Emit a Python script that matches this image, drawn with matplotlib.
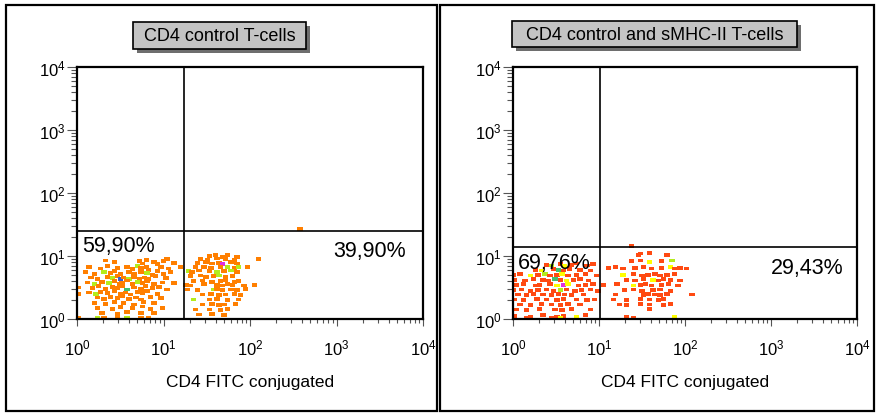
import numpy as np
import matplotlib
matplotlib.use("Agg")
import matplotlib.pyplot as plt
from matplotlib.patches import Rectangle
from matplotlib.ticker import LogLocator, NullFormatter

plt.rcParams['font.family'] = ['Liberation Sans', 'DejaVu Sans']
plt.rcParams['mathtext.fontset'] = 'custom'
plt.rcParams['mathtext.rm'] = 'Liberation Sans'

# events, as (log10 CD4 FITC, log10 y, colour key)
left_neg = [
    (0.33, 0.93, 'o'), (0.43, 0.90, 'o'), (0.72, 0.92, 'o'), (0.76, 0.88, 'o'), (0.80, 0.94, 'o'),
    (0.89, 0.91, 'o'), (0.93, 0.87, 'o'), (1.00, 0.92, 'o'), (1.04, 0.95, 'o'), (1.12, 0.89, 'o'),
    (0.14, 0.82, 'o'), (0.27, 0.80, 'o'), (0.35, 0.84, 'o'), (0.47, 0.81, 'o'), (0.58, 0.83, 'o'),
    (0.64, 0.79, 'o'), (0.70, 0.84, 'g'), (0.74, 0.81, 'o'), (0.80, 0.82, 'o'), (0.83, 0.78, 'o'),
    (0.97, 0.83, 'o'), (1.06, 0.80, 'o'), (1.20, 0.82, 'o'),
    (0.10, 0.74, 'o'), (0.20, 0.72, 'o'), (0.31, 0.75, 'g'), (0.39, 0.73, 'o'), (0.43, 0.76, 'o'),
    (0.50, 0.72, 'o'), (0.60, 0.74, 'o'), (0.66, 0.71, 'o'), (0.74, 0.75, 'o'), (0.81, 0.73, 'g'),
    (0.87, 0.70, 'o'), (0.93, 0.76, 'o'), (1.00, 0.72, 'o'), (1.08, 0.74, 'o'),
    (0.16, 0.66, 'o'), (0.24, 0.64, 'o'), (0.35, 0.67, 'o'), (0.41, 0.65, 'g'), (0.47, 0.68, 'o'),
    (0.50, 0.63, 'b'), (0.54, 0.66, 'o'), (0.60, 0.64, 'g'), (0.66, 0.67, 'o'), (0.72, 0.63, 'o'),
    (0.78, 0.66, 'o'), (0.83, 0.64, 'o'), (0.91, 0.68, 'o'), (1.03, 0.65, 'o'),
    (0.12, 0.58, 'o'), (0.20, 0.56, 'g'), (0.29, 0.59, 'o'), (0.37, 0.57, 'g'), (0.43, 0.60, 'o'),
    (0.49, 0.55, 'o'), (0.52, 0.58, 'o'), (0.58, 0.61, 'o'), (0.64, 0.56, 'o'), (0.70, 0.59, 'g'),
    (0.76, 0.57, 'o'), (0.81, 0.60, 'o'), (0.89, 0.55, 'o'), (0.99, 0.58, 'o'), (1.12, 0.57, 'o'),
    (0.02, 0.50, 'o'), (0.18, 0.49, 'o'), (0.25, 0.52, 'o'), (0.33, 0.48, 'o'), (0.41, 0.51, 'o'),
    (0.47, 0.49, 'o'), (0.52, 0.52, 'o'), (0.58, 0.47, 't'), (0.66, 0.50, 'o'), (0.74, 0.48, 'o'),
    (0.79, 0.52, 'o'), (0.87, 0.49, 'o'), (0.95, 0.51, 'o'), (1.04, 0.47, 'o'),
    (0.14, 0.42, 'o'), (0.22, 0.40, 'g'), (0.27, 0.43, 'o'), (0.35, 0.41, 'o'), (0.43, 0.44, 'o'),
    (0.50, 0.40, 'o'), (0.56, 0.42, 'o'), (0.62, 0.39, 'o'), (0.70, 0.43, 'o'), (0.76, 0.41, 'o'),
    (0.81, 0.44, 'o'), (0.93, 0.40, 'o'), (0.01, 0.40, 'o'),
    (0.24, 0.34, 'o'), (0.31, 0.32, 'o'), (0.39, 0.35, 'o'), (0.47, 0.33, 'o'), (0.52, 0.36, 'o'),
    (0.60, 0.32, 'o'), (0.68, 0.34, 'o'), (0.74, 0.31, 'o'), (0.85, 0.35, 'o'), (0.97, 0.33, 'o'),
    (0.20, 0.26, 'o'), (0.33, 0.24, 'o'), (0.43, 0.27, 'o'), (0.54, 0.25, 'o'), (0.66, 0.23, 'o'),
    (0.77, 0.27, 'o'), (0.89, 0.25, 'o'),
    (0.24, 0.18, 'o'), (0.41, 0.16, 'o'), (0.50, 0.19, 'o'), (0.64, 0.17, 'o'), (0.76, 0.20, 'o'),
    (0.85, 0.16, 'o'), (0.99, 0.18, 'o'),
    (0.29, 0.10, 'o'), (0.47, 0.08, 'o'), (0.58, 0.11, 'o'), (0.74, 0.09, 'o'), (0.89, 0.10, 'o'),
    (0.01, 0.02, 'o'), (0.24, 0.02, 'g'), (0.31, 0.02, 'o'), (0.47, 0.02, 'o'), (0.58, 0.02, 'g'),
    (0.74, 0.02, 'o'), (0.83, 0.02, 'o'),
]
left_pos = [
    (1.53, 1.00, 'o'), (1.60, 1.01, 'o'), (1.68, 0.99, 'o'), (1.74, 1.02, 'o'), (1.85, 0.98, 'o'),
    (1.43, 0.95, 'o'), (1.51, 0.94, 'o'), (1.62, 0.96, 'o'), (1.72, 0.95, 'o'), (1.82, 0.94, 'o'),
    (2.10, 0.95, 'o'),
    (1.39, 0.89, 'o'), (1.49, 0.90, 'o'), (1.56, 0.88, 'o'), (1.64, 0.89, 'o'), (1.68, 0.87, 'm'),
    (1.78, 0.90, 'o'), (1.85, 0.88, 'o'),
    (1.37, 0.82, 'o'), (1.47, 0.83, 'o'), (1.55, 0.81, 'o'), (1.66, 0.82, 'o'), (1.74, 0.83, 'g'),
    (1.82, 0.81, 'o'), (1.87, 0.82, 'g'), (1.97, 0.82, 'o'),
    (1.29, 0.76, 'g'), (1.33, 0.75, 'o'), (1.41, 0.77, 'o'), (1.53, 0.76, 'o'), (1.62, 0.75, 'g'),
    (1.70, 0.76, 'o'), (1.78, 0.77, 'g'), (1.85, 0.75, 'o'),
    (1.31, 0.68, 'o'), (1.43, 0.69, 'o'), (1.49, 0.67, 'o'), (1.58, 0.68, 'o'), (1.64, 0.69, 'g'),
    (1.72, 0.67, 'o'), (1.80, 0.68, 'o'),
    (1.35, 0.60, 'o'), (1.45, 0.61, 'o'), (1.56, 0.59, 'o'), (1.66, 0.60, 'o'), (1.72, 0.61, 'o'),
    (1.82, 0.59, 'o'), (1.87, 0.60, 'o'),
    (1.26, 0.54, 'o'), (1.31, 0.53, 'o'), (1.47, 0.55, 'o'), (1.62, 0.54, 'o'), (1.68, 0.53, 'o'),
    (1.74, 0.55, 'o'), (1.80, 0.54, 'o'), (1.93, 0.53, 'o'), (2.05, 0.54, 'o'),
    (1.28, 0.47, 'o'), (1.39, 0.46, 'o'), (1.58, 0.47, 'g'), (1.62, 0.48, 'o'), (1.68, 0.46, 'o'),
    (1.78, 0.47, 'o'), (1.85, 0.46, 'o'), (1.95, 0.48, 'o'),
    (1.45, 0.39, 'o'), (1.55, 0.40, 'o'), (1.64, 0.38, 'o'), (1.72, 0.39, 'o'), (1.82, 0.40, 'o'),
    (1.89, 0.38, 'o'),
    (1.35, 0.31, 'g'), (1.53, 0.31, 'o'), (1.62, 0.32, 'o'), (1.74, 0.30, 'o'), (1.87, 0.31, 'o'),
    (1.45, 0.23, 'o'), (1.56, 0.24, 'o'), (1.64, 0.22, 'o'), (1.70, 0.23, 'o'), (1.83, 0.24, 'o'),
    (1.37, 0.15, 'o'), (1.53, 0.15, 'o'), (1.66, 0.14, 'o'), (1.74, 0.16, 'o'),
    (1.41, 0.07, 'o'), (1.56, 0.08, 'o'), (1.70, 0.06, 'o'),
    (2.58, 1.43, 'o'),
]
right_neg = [
    (0.39, 0.86, 'r'), (0.45, 0.85, 'g'), (0.55, 0.87, 'r'), (0.60, 0.84, 'y'), (0.68, 0.86, 'r'),
    (0.74, 0.88, 'r'), (0.86, 0.85, 'r'), (0.93, 0.87, 'r'),
    (0.26, 0.78, 'r'), (0.33, 0.77, 'y'), (0.47, 0.79, 'r'), (0.53, 0.78, 't'), (0.59, 0.77, 'r'),
    (0.66, 0.79, 'r'), (0.78, 0.78, 'r'), (0.90, 0.77, 'r'),
    (0.00, 0.70, 'r'), (0.08, 0.71, 'r'), (0.20, 0.69, 'y'), (0.29, 0.70, 'r'), (0.37, 0.71, 'g'),
    (0.43, 0.69, 'r'), (0.51, 0.70, 'r'), (0.57, 0.71, 'y'), (0.64, 0.69, 'r'), (0.74, 0.70, 'r'),
    (0.84, 0.71, 'r'), (0.97, 0.69, 'r'),
    (0.02, 0.62, 'r'), (0.14, 0.61, 'r'), (0.24, 0.63, 'r'), (0.35, 0.62, 'r'), (0.41, 0.61, 'r'),
    (0.49, 0.63, 't'), (0.55, 0.62, 'r'), (0.62, 0.61, 'y'), (0.70, 0.62, 'r'), (0.78, 0.63, 'r'),
    (0.88, 0.61, 'r'),
    (0.04, 0.54, 'r'), (0.12, 0.55, 'r'), (0.26, 0.53, 'r'), (0.31, 0.54, 'r'), (0.43, 0.55, 'r'),
    (0.51, 0.53, 'y'), (0.59, 0.54, 'm'), (0.64, 0.55, 'y'), (0.76, 0.53, 'r'), (0.84, 0.54, 'r'),
    (0.93, 0.55, 'r'),
    (0.00, 0.46, 'r'), (0.10, 0.47, 'r'), (0.20, 0.45, 'r'), (0.29, 0.46, 'r'), (0.39, 0.47, 'r'),
    (0.47, 0.45, 'r'), (0.55, 0.46, 'g'), (0.62, 0.47, 'r'), (0.72, 0.45, 'r'), (0.80, 0.46, 'r'),
    (0.90, 0.47, 'r'), (0.99, 0.45, 'r'),
    (0.06, 0.39, 'r'), (0.16, 0.38, 'r'), (0.24, 0.40, 'r'), (0.35, 0.39, 'r'), (0.45, 0.38, 'r'),
    (0.53, 0.40, 'r'), (0.60, 0.39, 'r'), (0.68, 0.38, 'r'), (0.82, 0.39, 'r'),
    (0.02, 0.31, 'r'), (0.12, 0.30, 'r'), (0.28, 0.32, 'r'), (0.39, 0.31, 'r'), (0.51, 0.30, 'r'),
    (0.59, 0.32, 'r'), (0.74, 0.31, 'r'), (0.86, 0.30, 'r'), (0.95, 0.31, 'r'),
    (0.08, 0.23, 'r'), (0.20, 0.22, 'r'), (0.33, 0.24, 'r'), (0.45, 0.23, 'r'), (0.55, 0.22, 'r'),
    (0.64, 0.24, 'r'), (0.78, 0.23, 'r'),
    (0.04, 0.15, 'r'), (0.16, 0.14, 'r'), (0.31, 0.16, 'r'), (0.49, 0.15, 'r'), (0.57, 0.14, 'r'),
    (0.68, 0.16, 'r'), (0.90, 0.15, 'r'),
    (0.02, 0.05, 'r'), (0.20, 0.04, 'r'), (0.35, 0.06, 'r'), (0.51, 0.04, 'r'), (0.59, 0.05, 'r'),
    (0.74, 0.04, 'y'), (0.84, 0.06, 'r'),
    (0.16, 0.01, 'r'), (0.45, 0.02, 'r'), (0.55, 0.01, 'y'),
]
right_pos = [
    (1.59, 1.05, 'r'), (1.48, 1.04, 'r'), (1.46, 1.02, 'r'), (1.79, 1.01, 'r'),
    (1.38, 0.92, 'r'), (1.48, 0.93, 'r'), (1.59, 0.91, 'y'), (1.73, 0.92, 'r'), (1.85, 0.93, 'g'),
    (1.11, 0.81, 'r'), (1.19, 0.82, 'r'), (1.28, 0.80, 'r'), (1.42, 0.81, 'r'), (1.52, 0.82, 'r'),
    (1.61, 0.80, 'r'), (1.73, 0.81, 'r'), (1.83, 0.82, 'y'), (1.88, 0.80, 'r'), (1.94, 0.81, 'r'),
    (2.02, 0.80, 'r'),
    (1.28, 0.70, 'y'), (1.40, 0.71, 'r'), (1.50, 0.69, 'r'), (1.57, 0.70, 'r'), (1.65, 0.71, 'r'),
    (1.71, 0.69, 'r'), (1.79, 0.70, 'r'), (1.88, 0.71, 'r'),
    (1.32, 0.62, 'r'), (1.42, 0.61, 'r'), (1.52, 0.63, 'r'), (1.63, 0.62, 'y'), (1.69, 0.61, 'r'),
    (1.75, 0.63, 'r'), (1.83, 0.62, 'r'), (1.94, 0.61, 'r'),
    (1.05, 0.54, 'r'), (1.21, 0.55, 'r'), (1.40, 0.53, 'y'), (1.48, 0.54, 'r'), (1.54, 0.55, 'r'),
    (1.61, 0.53, 'r'), (1.73, 0.54, 'r'), (1.81, 0.55, 'r'), (1.92, 0.53, 'r'),
    (1.30, 0.46, 'r'), (1.40, 0.47, 'r'), (1.50, 0.45, 'r'), (1.63, 0.46, 'r'), (1.71, 0.47, 'r'),
    (1.83, 0.45, 'r'),
    (1.19, 0.39, 'r'), (1.52, 0.38, 'r'), (1.57, 0.40, 'r'), (1.65, 0.39, 'r'), (1.71, 0.38, 'r'),
    (1.79, 0.40, 'r'), (2.08, 0.39, 'r'),
    (1.17, 0.31, 'r'), (1.32, 0.30, 'r'), (1.48, 0.32, 'r'), (1.59, 0.31, 'r'), (1.69, 0.30, 'r'),
    (1.75, 0.32, 'r'),
    (1.24, 0.23, 'r'), (1.32, 0.22, 'r'), (1.48, 0.24, 'r'), (1.59, 0.23, 'r'), (1.75, 0.22, 'r'),
    (1.83, 0.24, 'r'),
    (1.59, 0.16, 'r'),
    (1.32, 0.03, 'r'), (1.40, 0.02, 'r'), (1.88, 0.03, 'y'),
    (1.38, 1.16, 'r'),
]

titles = ['CD4 control T-cells', 'CD4 control and sMHC-II T-cells']
gates_x = [17.3, 10.3]      # vertical quadrant line
gates_y = [25.0, 13.9]      # horizontal quadrant line
pct_neg = ['59,90%', '69,76%']
pct_pos = ['39,90%', '29,43%']
# label spots in axes fraction
pct_neg_y = [0.29, 0.225]
pct_pos_y = [0.272, 0.205]
pct_pos_x = [0.95, 0.962]

colours = {'o': '#ff7f00', 'r': '#ff4a12', 'g': '#b4ec1c', 'y': '#ffff00',
           'b': '#3a5fd0', 'm': '#e030e0', 't': '#40c070'}
dot = [(-1, -0.7), (1, -0.7), (1, 0.7), (-1, 0.7)]

fig = plt.figure(figsize=(8.8, 4.14), dpi=100)
W, H = 880, 414

def fx(px):
    return px / W

def fy(py):
    return 1 - py / H

# outer panel frames
for x0, x1 in [(6, 437), (440, 874)]:
    fig.patches.append(Rectangle((fx(x0), fy(412)), fx(x1 - x0), (412 - 6) / H, fill=False,
                                 lw=1.6, ec='black', transform=fig.transFigure))

# title boxes with drop shadow
boxes = [(133, 306, 23, 50), (512, 797, 22, 48)]
for (x0, x1, y0, y1), t in zip(boxes, titles):
    fig.patches.append(Rectangle((fx(x0 + 4), fy(y1 + 4)), fx(x1 - x0), (y1 - y0) / H,
                                 fc='#6e6e6e', ec='none', transform=fig.transFigure))
    fig.patches.append(Rectangle((fx(x0), fy(y1)), fx(x1 - x0), (y1 - y0) / H,
                                 fc='#c4c4c4', ec='black', lw=1.2, transform=fig.transFigure))
    fig.text(fx((x0 + x1) / 2), fy((y0 + y1) / 2), t, ha='center', va='center', fontsize=13)

axes_px = [(77, 423), (513, 857)]
data = [(left_neg + left_pos), (right_neg + right_pos)]
for i, (x0, x1) in enumerate(axes_px):
    ax = fig.add_axes([fx(x0), fy(320), fx(x1 - x0), (320 - 68) / H])
    pts = data[i]
    xs = 10 ** np.array([p[0] for p in pts])
    ys = 10 ** np.array([p[1] for p in pts])
    cs = [colours[p[2]] for p in pts]
    ax.scatter(xs, ys, s=15, c=cs, marker=dot, linewidths=0, zorder=2)
    ax.set_xscale('log')
    ax.set_yscale('log')
    ax.set_xlim(1, 1e4)
    ax.set_ylim(1, 1e4)
    ax.axvline(gates_x[i], color='black', lw=1.2, zorder=3)
    ax.axhline(gates_y[i], color='black', lw=1.2, zorder=3)
    for s in ax.spines.values():
        s.set_linewidth(1.6)
    ax.xaxis.set_major_locator(LogLocator(base=10, numticks=10))
    ax.yaxis.set_major_locator(LogLocator(base=10, numticks=10))
    ax.xaxis.set_minor_locator(LogLocator(base=10, subs=np.arange(2, 10), numticks=10))
    ax.yaxis.set_minor_locator(LogLocator(base=10, subs=np.arange(2, 10), numticks=10))
    ax.xaxis.set_minor_formatter(NullFormatter())
    ax.yaxis.set_minor_formatter(NullFormatter())
    ax.tick_params(axis='x', which='major', length=5, width=0.8, color='#555555', pad=8, labelsize=12)
    ax.tick_params(axis='x', which='minor', length=3, width=0.8, color='#555555')
    ax.tick_params(axis='y', which='major', length=7, width=0.8, color='#555555', pad=1, labelsize=12)
    ax.tick_params(axis='y', which='minor', length=4, width=0.8, color='#555555')
    ax.set_xlabel('CD4 FITC conjugated', fontsize=12.5, labelpad=12)
    ax.text(0.014, pct_neg_y[i], pct_neg[i], transform=ax.transAxes, fontsize=15.5,
            va='center', ha='left', zorder=4)
    ax.text(pct_pos_x[i], pct_pos_y[i], pct_pos[i], transform=ax.transAxes, fontsize=15.5,
            va='center', ha='right', zorder=4)

fig.savefig('out.png', dpi=100)
